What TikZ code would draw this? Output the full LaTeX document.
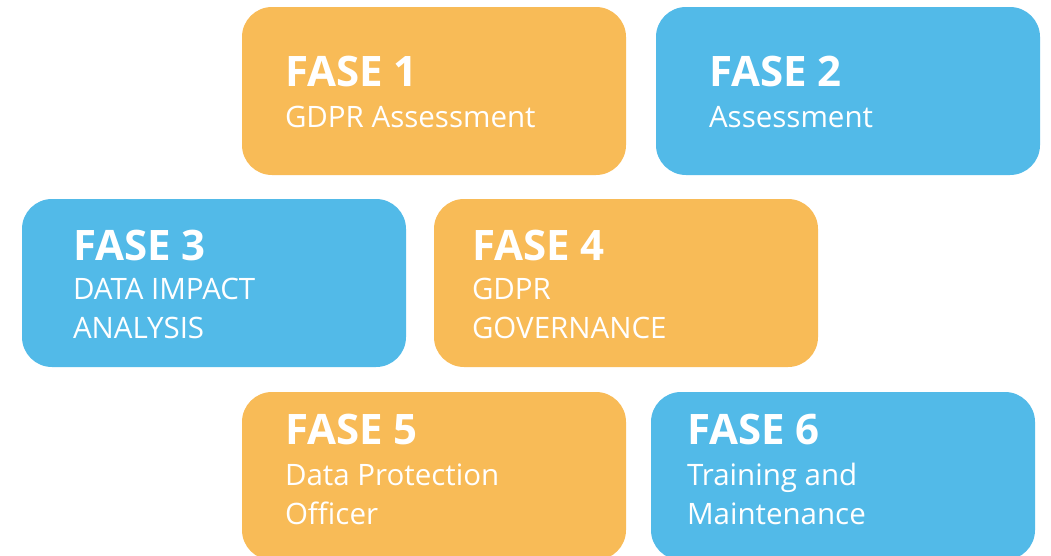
\documentclass[tikz,border=0pt]{standalone}
\usepackage{fontspec}
\setsansfont{Open Sans}
\usetikzlibrary{positioning,calc}
\definecolor{fasorange}{RGB}{248,187,87}
\definecolor{fasblue}{RGB}{82,186,232}
\begin{document}
\begin{tikzpicture}[x=1pt,y=-1pt,
  fase/.style={rectangle, fill=#1, rounded corners=30pt, minimum width=384pt, minimum height=168pt, inner sep=0pt},
  head/.style={anchor=base west, inner sep=0pt, text=white, font=\sffamily\bfseries\fontsize{42}{42}\selectfont},
  sub/.style={anchor=base west, inner sep=0pt, text=white, align=left, font=\sffamily\fontsize{29.5}{39}\selectfont},
]
\useasboundingbox (0,0) rectangle (1051,555);
\node[fase=fasorange] (f1) at (434,91)  {};
\node[fase=fasblue]   (f2) at (848,91)  {};
\node[fase=fasblue]   (f3) at (214,283) {};
\node[fase=fasorange] (f4) at (626,283) {};
\node[fase=fasorange] (f5) at (434,476) {};
\node[fase=fasblue]   (f6) at (843,476) {};

% headings and subtitles (two-line subtitles sit on their last baseline)
\node[head] (h1) at ([shift={(43,80)}]f1.north west) {FASE 1};
\node[sub]  (s1) at ([shift={(43,121)}]f1.north west) {GDPR Assessment};
\node[head] (h2) at ([shift={(53,80)}]f2.north west) {FASE 2};
\node[sub]  (s2) at ([shift={(53,121)}]f2.north west) {Assessment};
\node[head] (h3) at ([shift={(51,62)}]f3.north west) {FASE 3};
\node[sub]  (s3) at ([shift={(51,140)}]f3.north west) {DATA IMPACT\\ANALYSIS};
\node[head] (h4) at ([shift={(38,62)}]f4.north west) {FASE 4};
\node[sub]  (s4) at ([shift={(38,140)}]f4.north west) {GDPR\\GOVERNANCE};
\node[head] (h5) at ([shift={(43,53)}]f5.north west) {FASE 5};
\node[sub]  (s5) at ([shift={(43,133)}]f5.north west) {Data Protection\\Officer};
\node[head] (h6) at ([shift={(36,53)}]f6.north west) {FASE 6};
\node[sub]  (s6) at ([shift={(36,133)}]f6.north west) {Training and\\Maintenance};
\end{tikzpicture}
\end{document}
